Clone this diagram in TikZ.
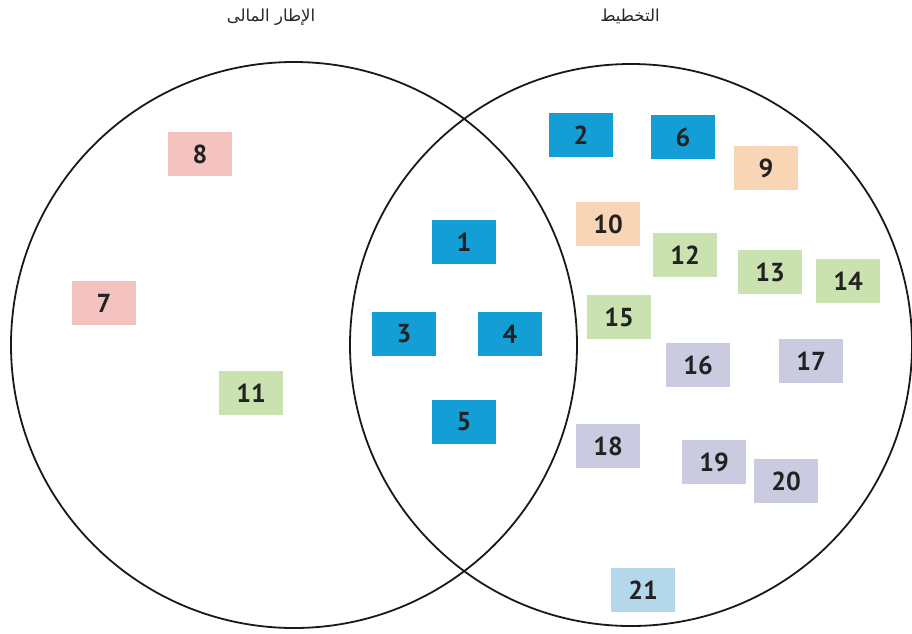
\documentclass[tikz,border=0pt]{standalone}
\usepackage{fontspec}
\setmainfont{PT Sans}
\TeXXeTstate=1
\newfontfamily\arabicfont[Script=Arabic]{DejaVu Sans}
\definecolor{cblue}{HTML}{139FD6}
\definecolor{cpink}{HTML}{F4C3C0}
\definecolor{corange}{HTML}{F8D5B5}
\definecolor{cgreen}{HTML}{C9E2B0}
\definecolor{clav}{HTML}{CACAE0}
\definecolor{clight}{HTML}{B5D7EC}
\definecolor{ctext}{HTML}{222222}
\begin{document}
\begin{tikzpicture}[x=1pt,y=-1pt,
  item/.style={minimum width=64pt,minimum height=44pt,inner sep=0pt,
    text=ctext,font=\fontsize{26}{26}\selectfont\bfseries},
  ring/.style={draw=black!90,line width=1.8pt},
  title/.style={font=\arabicfont\fontsize{16.5}{16.5}\selectfont,text=black!85}]
\useasboundingbox (0,0) rectangle (912,633);
% the two sets
\draw[ring] (294,345) circle[radius=283];
\draw[ring] (631,345) circle[radius=281];
% set headings
\node[title] (tleft) at (271,17) {\beginR الإطار المالى\endR};
\node[title] (tright) at (630,16) {\beginR التخطيط\endR};
% left-only items
\node[item,fill=cpink] (n8) at (200,154) {8};
\node[item,fill=cpink] (n7) at (104,303) {7};
\node[item,fill=cgreen] (n11) at (251,393) {11};
% shared items
\node[item,fill=cblue] (n1) at (464,242) {1};
\node[item,fill=cblue] (n3) at (404,334) {3};
\node[item,fill=cblue] (n4) at (510,334) {4};
\node[item,fill=cblue] (n5) at (464,422) {5};
% right-only items
\node[item,fill=cblue] (n2) at (581,135) {2};
\node[item,fill=cblue] (n6) at (683,137) {6};
\node[item,fill=corange] (n9) at (766,168) {9};
\node[item,fill=corange] (n10) at (608,224) {10};
\node[item,fill=cgreen] (n12) at (685,255) {12};
\node[item,fill=cgreen] (n13) at (770,272) {13};
\node[item,fill=cgreen] (n14) at (848,281) {14};
\node[item,fill=cgreen] (n15) at (619,317) {15};
\node[item,fill=clav] (n16) at (698,365) {16};
\node[item,fill=clav] (n17) at (811,361) {17};
\node[item,fill=clav] (n18) at (608,446) {18};
\node[item,fill=clav] (n19) at (714,462) {19};
\node[item,fill=clav] (n20) at (786,481) {20};
\node[item,fill=clight] (n21) at (643,590) {21};
\end{tikzpicture}
\end{document}
